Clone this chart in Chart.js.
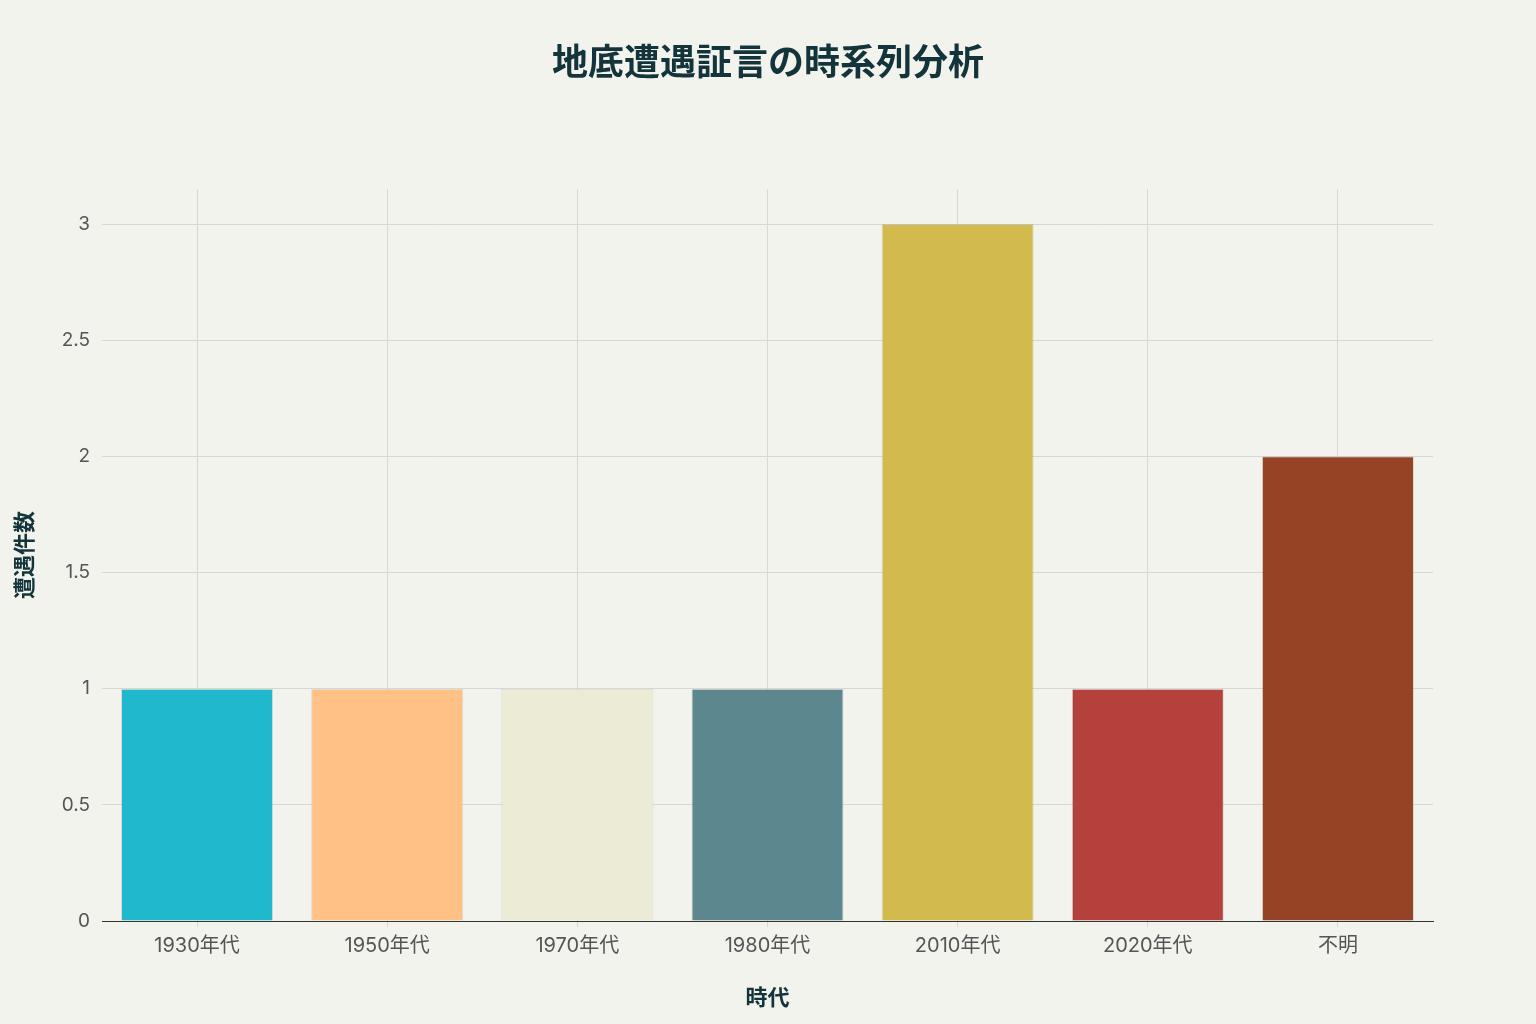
<!DOCTYPE html>
<html>
<head>
<meta charset="utf-8">
<script src="https://cdn.jsdelivr.net/npm/chart.js@4"></script>
<style>
  html, body { margin: 0; padding: 0; background: #F3F3EE; }
  #wrap { width: 1536px; height: 1024px; }
</style>
</head>
<body>
<div id="wrap"><canvas id="c" width="1536" height="1024"></canvas></div>
<script>
// data
const eras = ['1930年代', '1950年代', '1970年代', '1980年代', '2010年代', '2020年代', '不明'];
const counts = [1, 1, 1, 1, 3, 1, 2];
const barColors = ['#1FB8CD', '#FFC185', '#ECEBD5', '#5D878F', '#D2BA4C', '#B4413C', '#964325'];

const chartTitle = '地底遭遇証言の時系列分析';
const xTitle = '時代';
const yTitle = '遭遇件数';

const FONT = 'Inter, "Noto Sans CJK JP", sans-serif';
const TITLE_FONT = '"Noto Sans CJK JP", sans-serif';

const ctx = document.getElementById('c').getContext('2d');
new Chart(ctx, {
  type: 'bar',
  data: {
    labels: eras,
    datasets: [{
      data: counts,
      backgroundColor: barColors,
      borderColor: 'rgba(0,0,0,0.1)',
      borderWidth: 1,
      barPercentage: 0.8,
      categoryPercentage: 1.0
    }]
  },
  options: {
    responsive: false,
    animation: false,
    devicePixelRatio: 1,
    layout: { padding: 0 },
    plugins: {
      legend: { display: false },
      tooltip: { enabled: false },
      title: {
        display: true,
        text: chartTitle,
        color: '#13343B',
        font: { family: TITLE_FONT, size: 36, weight: 'bold' },
        padding: { top: 40, bottom: 106 }
      }
    },
    scales: {
      x: {
        grid: {
          offset: false,
          color: '#D8D8D2',
          tickColor: '#D8D8D2',
          tickLength: 6
        },
        border: { display: true, color: '#333333', width: 1 },
        ticks: {
          color: '#555555',
          font: { family: FONT, size: 20 },
          padding: 7
        },
        title: {
          display: true,
          text: xTitle,
          color: '#13343B',
          font: { family: TITLE_FONT, size: 22, weight: 'bold' },
          padding: { top: 14, bottom: 14 }
        },
        afterFit: (scale) => { scale.height = 103; }
      },
      y: {
        min: 0,
        max: 3.15,
        grid: {
          color: '#D8D8D2',
          tickColor: 'rgba(0,0,0,0)',
          tickLength: 8
        },
        border: { display: false },
        ticks: {
          stepSize: 0.5,
          includeBounds: false,
          color: '#555555',
          font: { family: FONT, size: 19 },
          padding: 4,
          callback: (v) => String(v)
        },
        title: {
          display: true,
          text: yTitle,
          color: '#13343B',
          font: { family: TITLE_FONT, size: 22, weight: 'bold' },
          padding: { top: 10, bottom: 30 }
        },
        afterFit: (scale) => { scale.width = 102; }
      },
      // empty right axis, only reserves the right margin so the title stays centred on the page
      yRight: {
        position: 'right',
        min: 0,
        max: 3.15,
        grid: { drawOnChartArea: false, display: false },
        border: { display: false },
        ticks: { display: false },
        afterFit: (scale) => { scale.width = 103; }
      }
    }
  }
});
</script>
</body>
</html>
